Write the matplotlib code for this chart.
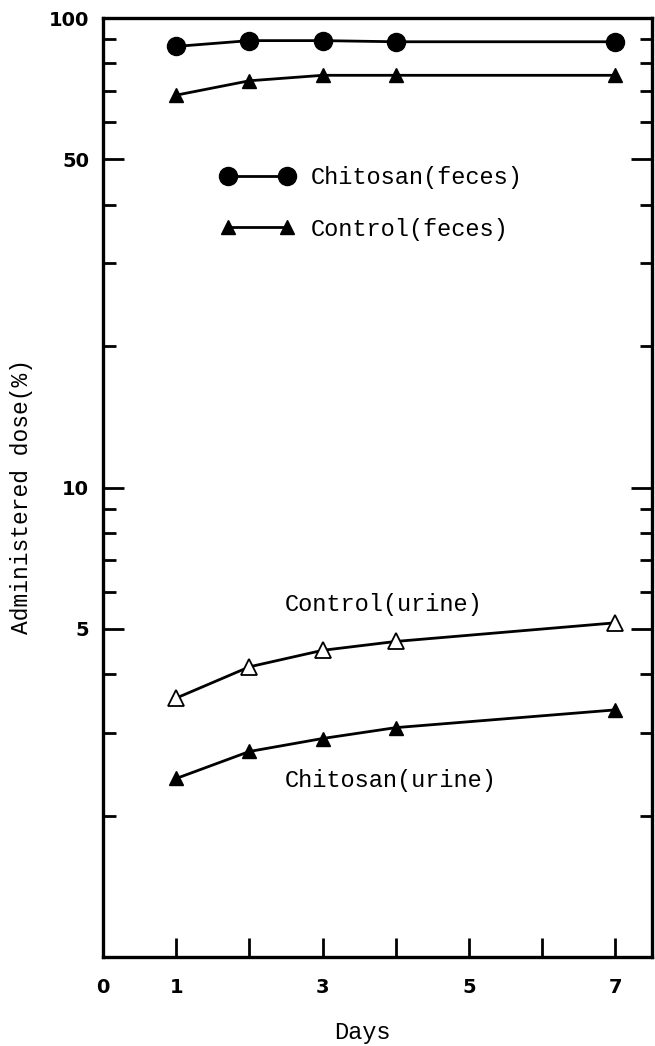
import matplotlib
matplotlib.use("Agg")
import matplotlib.pyplot as plt
from matplotlib.ticker import FixedLocator, FixedFormatter, NullFormatter

# ---- data ----
days = [1, 2, 3, 4, 7]
chitosan_feces = [87.0, 89.5, 89.5, 89.0, 89.0]
control_feces = [68.5, 73.5, 75.5, 75.5, 75.5]
control_urine = [3.56, 4.15, 4.50, 4.70, 5.15]
chitosan_urine = [2.40, 2.74, 2.92, 3.08, 3.36]

x_tick_labels = ["0", "1", "3", "5", "7"]
x_major = [0, 1, 3, 5, 7]
x_minor = [2, 4, 6]
y_major = [5, 10, 50, 100]
y_major_labels = ["5", "10", "50", "100"]
y_minor = [2, 3, 4, 6, 7, 8, 9, 20, 30, 40, 60, 70, 80, 90]

W, H = 655, 1046
fig = plt.figure(figsize=(W / 100, H / 100), dpi=100)
ax = fig.add_axes([103 / W, 1 - 957 / H, (652 - 103) / W, (957 - 18) / H])

mono = "Liberation Mono"
tickfont = "DejaVu Sans"
lw = 2.0

ax.plot(days, chitosan_feces, color="black", lw=lw, marker="o", ms=13,
        mfc="black", mec="black", label="Chitosan(feces)")
ax.plot(days, control_feces, color="black", lw=lw, marker="^", ms=10,
        mfc="black", mec="black", label="Control(feces)")
ax.plot(days, control_urine, color="black", lw=lw, marker="^", ms=11,
        mfc="white", mec="black", mew=1.3)
ax.plot(days, chitosan_urine, color="black", lw=lw, marker="^", ms=10,
        mfc="black", mec="black")

ax.set_yscale("log")
ax.set_ylim(1, 100)
ax.set_xlim(0, 7.5)

ax.xaxis.set_major_locator(FixedLocator(x_major))
ax.xaxis.set_major_formatter(FixedFormatter(x_tick_labels))
ax.xaxis.set_minor_locator(FixedLocator(x_minor))
ax.yaxis.set_major_locator(FixedLocator(y_major))
ax.yaxis.set_major_formatter(FixedFormatter(y_major_labels))
ax.yaxis.set_minor_locator(FixedLocator(y_minor))
ax.yaxis.set_minor_formatter(NullFormatter())

ax.tick_params(axis="x", which="both", direction="in", length=13.5, width=2.0,
               pad=15, top=False, labelsize=14)
ax.tick_params(axis="y", which="major", direction="in", length=15, width=2.0,
               pad=10, left=True, right=True, labelsize=14)
ax.tick_params(axis="y", which="minor", direction="in", length=9, width=2.0,
               left=True, right=True)
for lab in ax.get_xticklabels() + ax.get_yticklabels():
    lab.set_fontfamily(tickfont)
    lab.set_fontweight("bold")

for s in ax.spines.values():
    s.set_linewidth(2.4)

ax.legend(loc="upper left", bbox_to_anchor=(0.215, 0.842), frameon=False,
          numpoints=2, handlelength=3.1, handletextpad=0.7,
          labelspacing=1.2, borderpad=0, borderaxespad=0,
          prop={"family": mono, "size": 17})


def axx(px):
    return (px - 103) / (652 - 103)


def axy(py):
    return (957 - py) / (957 - 18)


ax.text(axx(285), axy(604), "Control(urine)", transform=ax.transAxes,
        family=mono, fontsize=17, ha="left", va="center")
ax.text(axx(285), axy(781), "Chitosan(urine)", transform=ax.transAxes,
        family=mono, fontsize=17, ha="left", va="center")

fig.text(22 / W, 1 - 497 / H, "Administered dose(%)", rotation=90,
         family=mono, fontsize=16.5, ha="center", va="center")
fig.text(362 / W, 1 - 1039 / H, "Days", family=mono, fontsize=17,
         ha="center", va="baseline")

fig.savefig("out.png", dpi=100)
